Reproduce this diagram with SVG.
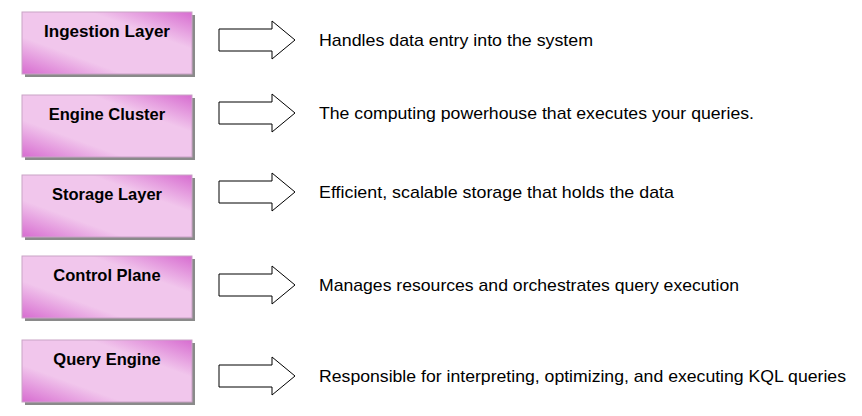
<svg xmlns="http://www.w3.org/2000/svg" width="862" height="416" viewBox="0 0 862 416">
<defs>
<linearGradient id="g" x1="0" y1="1" x2="1" y2="0">
<stop offset="0" stop-color="#d76cd0"/>
<stop offset="0.3" stop-color="#f1c6ec"/>
<stop offset="0.7" stop-color="#f1c6ec"/>
<stop offset="1" stop-color="#d76cd0"/>
</linearGradient>
<style>
.box{fill:url(#g);stroke:#c9a3c6;stroke-width:1}
.sh{fill:#8a8a8a}
.bt{font-family:"Liberation Sans",Arial,sans-serif;font-weight:bold;font-size:16.5px;fill:#000;text-anchor:middle}
.dt{font-family:"Liberation Sans",Arial,sans-serif;font-size:17px;fill:#000}
.ar{fill:#fff;stroke:#000;stroke-width:1}
</style>
</defs>
<g id="n1"><rect class="sh" x="25" y="15" width="170" height="62"/><rect class="box" x="22" y="12" width="170" height="62"/><text class="bt" x="107" y="37" textLength="126" lengthAdjust="spacingAndGlyphs">Ingestion Layer</text></g>
<g id="n2"><rect class="sh" x="25" y="98" width="170" height="62"/><rect class="box" x="22" y="95" width="170" height="62"/><text class="bt" x="107" y="120">Engine Cluster</text></g>
<g id="n3"><rect class="sh" x="25" y="178" width="170" height="62"/><rect class="box" x="22" y="175" width="170" height="62"/><text class="bt" x="107" y="200">Storage Layer</text></g>
<g id="n4"><rect class="sh" x="25" y="259" width="170" height="62"/><rect class="box" x="22" y="256" width="170" height="62"/><text class="bt" x="107" y="281">Control Plane</text></g>
<g id="n5"><rect class="sh" x="25" y="343" width="170" height="62"/><rect class="box" x="22" y="340" width="170" height="62"/><text class="bt" x="107" y="365">Query Engine</text></g>
<g id="connectors">
<path class="ar" d="M219,29 H272 V21 L295,40 L272,59 V51 H219 Z"/>
<path class="ar" d="M219,102 H272 V94 L295,113 L272,132 V124 H219 Z"/>
<path class="ar" d="M219,181 H272 V173 L295,192 L272,211 V203 H219 Z"/>
<path class="ar" d="M219,274 H272 V266 L295,285 L272,304 V296 H219 Z"/>
<path class="ar" d="M219,365 H272 V357 L295,376 L272,395 V387 H219 Z"/>
</g>
<g id="labels">
<text class="dt" x="319" y="46" textLength="274" lengthAdjust="spacingAndGlyphs">Handles data entry into the system</text>
<text class="dt" x="319" y="119" textLength="435" lengthAdjust="spacingAndGlyphs">The computing powerhouse that executes your queries.</text>
<text class="dt" x="319" y="198" textLength="355" lengthAdjust="spacingAndGlyphs">Efficient, scalable storage that holds the data</text>
<text class="dt" x="319" y="291" textLength="420" lengthAdjust="spacingAndGlyphs">Manages resources and orchestrates query execution</text>
<text class="dt" x="319" y="382" textLength="527" lengthAdjust="spacingAndGlyphs">Responsible for interpreting, optimizing, and executing KQL queries</text>
</g>
</svg>
